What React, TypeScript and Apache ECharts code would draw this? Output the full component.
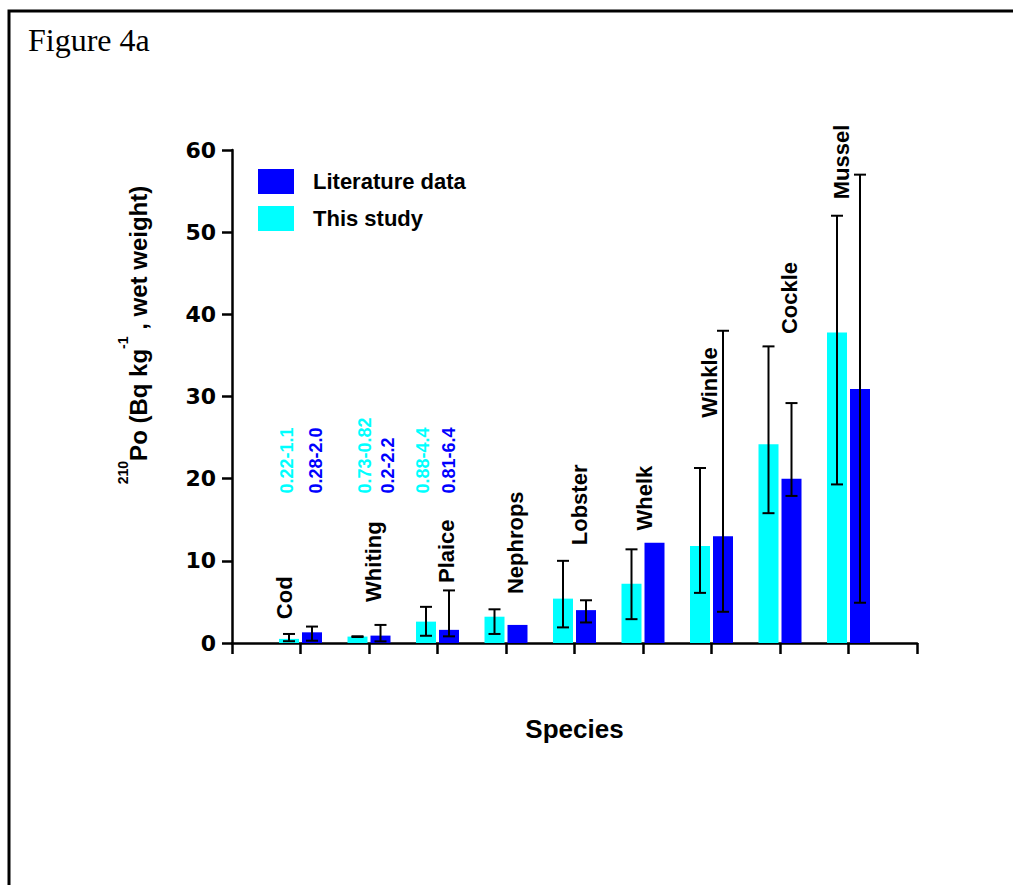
import React, { useEffect, useRef } from 'react';
import * as echarts from 'echarts';

// ---------------- data ----------------
const species = ['Cod', 'Whiting', 'Plaice', 'Nephrops', 'Lobster', 'Whelk', 'Winkle', 'Cockle', 'Mussel'];
const thisStudy = [0.5, 0.78, 2.6, 3.2, 5.4, 7.2, 11.8, 24.2, 37.8];
const thisLow = [0.22, 0.73, 0.88, 1.1, 1.9, 2.9, 6.1, 15.8, 19.3];
const thisHigh = [1.1, 0.82, 4.4, 4.1, 10.0, 11.4, 21.3, 36.1, 52.0];
const literature = [1.3, 0.9, 1.6, 2.2, 4.0, 12.2, 13.0, 20.0, 30.9];
const litLow: (number | null)[] = [0.28, 0.2, 0.81, null, 2.5, null, 3.8, 17.9, 4.9];
const litHigh: (number | null)[] = [2.0, 2.2, 6.4, null, 5.2, null, 38.0, 29.2, 57.0];
const thisRanges = ['0.22-1.1', '0.73-0.82', '0.88-4.4'];
const litRanges = ['0.28-2.0', '0.2-2.2', '0.81-6.4'];
const yMin = 0;
const yMax = 60;
const yStep = 10;

// ---------------- layout (annotation anchors, in axis units / px offsets) ----------------
const labelBase = [2.9, 5.0, 7.3, 5.95, 11.9, 13.7, 27.4, 37.6, 54.0];
const labelDx = [-16, 4, 9, 9, 5, 1, -2, 9, -7];
const rangeBase = 18.2;
const thisRangeDx = [-14, -4, -15];
const litRangeDx = [15, 19, 11];

const CYAN = '#00FFFF';
const BLUE = '#0000FF';
const SANS = '"Liberation Sans", Arial, sans-serif';
const BAR_OFFSET = 11.5;

function errorSeries(name: string, lows: (number | null)[], highs: (number | null)[], dx: number) {
  const data: number[][] = [];
  species.forEach((_, i) => {
    if (lows[i] != null && highs[i] != null) data.push([i + 1, lows[i] as number, highs[i] as number]);
  });
  return {
    type: 'custom',
    name,
    data,
    z: 5,
    silent: true,
    clip: false,
    encode: { x: 0, y: [1, 2] },
    renderItem: (_p: any, api: any) => {
      const x = api.value(0);
      const top = api.coord([x, api.value(2)]);
      const bot = api.coord([x, api.value(1)]);
      const cx = top[0] + dx;
      const hw = 6;
      const st = { stroke: '#000', lineWidth: 2 };
      return {
        type: 'group',
        children: [
          { type: 'line', shape: { x1: cx, y1: top[1], x2: cx, y2: bot[1] }, style: st },
          { type: 'line', shape: { x1: cx - hw, y1: top[1], x2: cx + hw, y2: top[1] }, style: st },
          { type: 'line', shape: { x1: cx - hw, y1: bot[1], x2: cx + hw, y2: bot[1] }, style: st },
        ],
      };
    },
  };
}

function textSeries(name: string, texts: string[], bases: number[], dxs: number[], color: string, size: number) {
  return {
    type: 'custom',
    name,
    data: texts.map((_, i) => [i + 1, bases[i]]),
    z: 6,
    silent: true,
    clip: false,
    encode: { x: 0, y: 1 },
    renderItem: (params: any, api: any) => {
      const i = params.dataIndex;
      const p = api.coord([api.value(0), api.value(1)]);
      return {
        type: 'text',
        x: p[0] + dxs[i],
        y: p[1],
        rotation: Math.PI / 2,
        style: {
          text: texts[i],
          fill: color,
          fontSize: size,
          fontWeight: 'bold',
          fontFamily: SANS,
          align: 'left',
          verticalAlign: 'middle',
          textAlign: 'left',
          textVerticalAlign: 'middle',
        },
      };
    },
  };
}

export default function App() {
  const ref = useRef<HTMLDivElement>(null);
  useEffect(() => {
    if (!ref.current) return;
    const chart = echarts.init(ref.current, undefined, { renderer: 'svg' });
    const option: any = {
      animation: false,
      backgroundColor: '#fff',
      grid: { left: 232, right: 96, top: 150, bottom: 242 },
      legend: {
        orient: 'vertical',
        left: 258,
        top: 169,
        padding: 0,
        itemWidth: 36,
        itemHeight: 25,
        itemGap: 12,
        selectedMode: false,
        data: [
          { name: 'Literature data', icon: 'rect' },
          { name: 'This study', icon: 'rect' },
        ],
        textStyle: { fontSize: 22, fontWeight: 'bold', fontFamily: SANS, color: '#000', padding: [0, 0, 0, 14] },
      },
      xAxis: {
        type: 'value',
        min: 0,
        max: 10,
        interval: 1,
        name: 'Species',
        nameLocation: 'middle',
        nameGap: 73,
        nameTextStyle: { fontSize: 26, fontWeight: 'bold', fontFamily: SANS, color: '#000' },
        axisLine: { show: true, lineStyle: { color: '#000', width: 2.5 } },
        axisTick: { show: true, inside: false, length: 11, lineStyle: { color: '#000', width: 2.5 } },
        axisLabel: { show: false },
        splitLine: { show: false },
      },
      yAxis: {
        type: 'value',
        min: yMin,
        max: yMax,
        interval: yStep,
        axisLine: { show: true, lineStyle: { color: '#000', width: 2.5 } },
        axisTick: { show: true, inside: false, length: 10, lineStyle: { color: '#000', width: 2.5 } },
        axisLabel: {
          margin: 16,
          fontSize: 22,
          fontWeight: 'bold',
          fontFamily: '"DejaVu Sans", sans-serif',
          color: '#000',
        },
        splitLine: { show: false },
      },
      graphic: [
        {
          type: 'rect',
          shape: { x: 9, y: 11, width: 1100, height: 1000 },
          style: { fill: 'none', stroke: '#000', lineWidth: 3 },
          silent: true,
        },
        {
          type: 'text',
          x: 28,
          y: 24,
          style: {
            text: 'Figure 4a',
            fill: '#000',
            fontSize: 32,
            fontFamily: '"Liberation Serif", "Times New Roman", serif',
            textVerticalAlign: 'top',
            verticalAlign: 'top',
          },
          silent: true,
        },
        {
          type: 'text',
          x: 133,
          y: 335,
          rotation: Math.PI / 2,
          style: {
            text: '{sup|210}{main|Po (Bq kg}{sup|-1}{main| , wet weight)}',
            align: 'center',
            verticalAlign: 'middle',
            textAlign: 'center',
            textVerticalAlign: 'middle',
            rich: {
              main: { fontSize: 24, fontWeight: 'bold', fontFamily: SANS, fill: '#000', color: '#000', lineHeight: 34, verticalAlign: 'bottom' },
              sup: { fontSize: 14, fontWeight: 'bold', fontFamily: SANS, fill: '#000', color: '#000', lineHeight: 14, verticalAlign: 'top' },
            },
          },
          silent: true,
        },
      ],
      series: [
        {
          type: 'bar',
          name: 'This study',
          data: thisStudy.map((v, i) => [i + 1, v]),
          barWidth: 20,
          barGap: '15%',
          itemStyle: { color: CYAN },
          silent: true,
        },
        {
          type: 'bar',
          name: 'Literature data',
          data: literature.map((v, i) => [i + 1, v]),
          barWidth: 20,
          barGap: '15%',
          itemStyle: { color: BLUE },
          silent: true,
        },
        errorSeries('this-err', thisLow, thisHigh, -BAR_OFFSET),
        errorSeries('lit-err', litLow, litHigh, BAR_OFFSET),
        textSeries('species-labels', species, labelBase, labelDx, '#000', 22),
        textSeries('this-ranges', thisRanges, thisRanges.map(() => rangeBase), thisRangeDx, CYAN, 18),
        textSeries('lit-ranges', litRanges, litRanges.map(() => rangeBase), litRangeDx, BLUE, 18),
      ],
    };
    chart.setOption(option);
    return () => chart.dispose();
  }, []);
  return <div ref={ref} style={{ position: 'absolute', left: 0, top: 0, width: 1013, height: 885 }} />;
}
